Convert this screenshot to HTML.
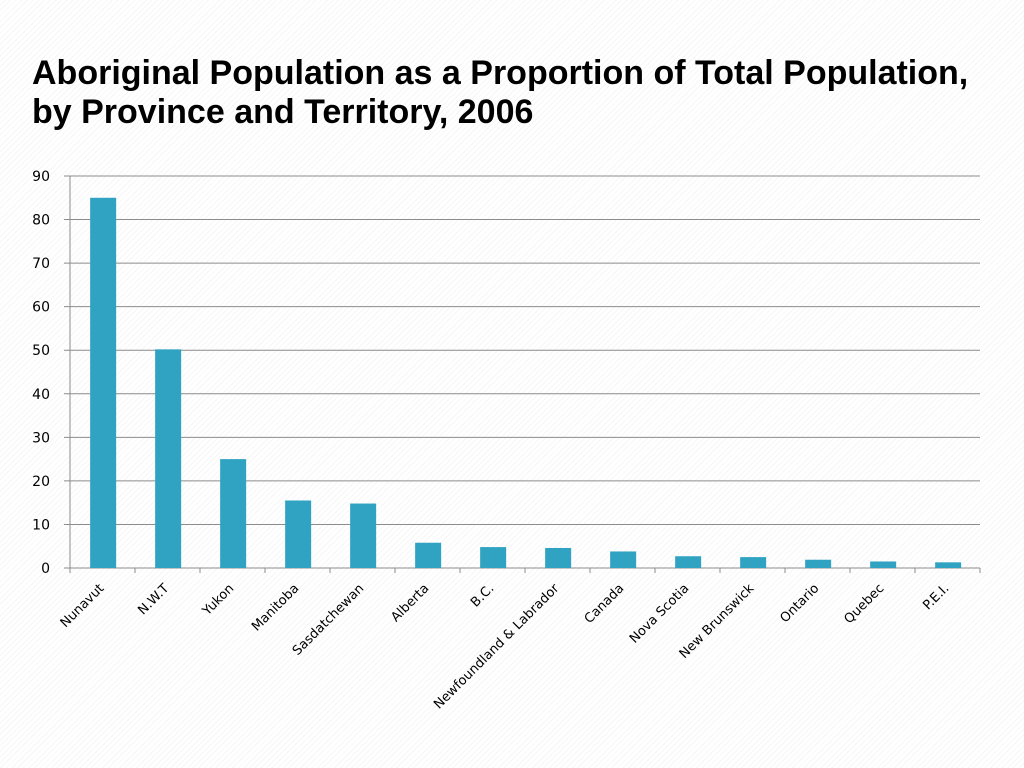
<!DOCTYPE html>
<html><head><meta charset="utf-8"><style>
body{margin:0;width:1024px;height:768px;overflow:hidden;background:repeating-linear-gradient(135deg,#fff 0 3px,#f6f6f6 3px 4px);font-family:"Liberation Sans",sans-serif}
h1{position:absolute;left:32px;top:54px;margin:0;font-size:34px;line-height:39px;font-weight:bold;color:#000;white-space:nowrap}
svg{position:absolute;left:0;top:0}
</style></head><body>
<h1>Aboriginal Population as a Proportion of Total Population,<br>by Province and Territory, 2006</h1>
<svg id="c" width="1024" height="768"></svg>
<script>
const categories=["Nunavut","N.W.T","Yukon","Manitoba","Sasdatchewan","Alberta","B.C.","Newfoundland & Labrador","Canada","Nova Scotia","New Brunswick","Ontario","Quebec","P.E.I."];
const values=[85,50.2,25,15.5,14.8,5.8,4.8,4.6,3.8,2.7,2.5,1.9,1.5,1.3];
const yTicks=[0,10,20,30,40,50,60,70,80,90];
const NS="http://www.w3.org/2000/svg",svg=document.getElementById('c');
const L=70,R=980,B=568,T=176,yMax=90;
const y=v=>B-(v/yMax)*(B-T);
const bw=(R-L)/categories.length;
const x=i=>L+i*bw;
function mk(t,a){const e=document.createElementNS(NS,t);for(const k in a)e.setAttribute(k,a[k]);svg.appendChild(e);return e;}
yTicks.forEach(v=>{
 const g=mk('line',{x1:64,x2:R,y1:y(v),y2:y(v),stroke:'#8c8c8c','stroke-width':1});
 
 
 const t=mk('text',{x:50,y:y(v)+5,'text-anchor':'end','font-size':14,fill:'#000','font-family':'DejaVu Sans, sans-serif'});
 t.textContent=v;
 
 
});
const ax=mk('line',{x1:L,x2:L,y1:T,y2:B,stroke:'#8c8c8c'});


for(let i=0;i<=categories.length;i++){
 const tk=mk('line',{x1:x(i),x2:x(i),y1:B,y2:B+5,stroke:'#8c8c8c'});
 
 
}
values.forEach((v,i)=>{
 const r=mk('rect',{x:x(i)+bw*0.31,y:y(v),width:bw*0.4,height:B-y(v),fill:'#2fa3c1'});
 
 
 const cx=x(i)+bw/2+2,cy=B+21;
 const t=mk('text',{x:cx,y:cy,'text-anchor':'end','font-size':13,fill:'#000','font-family':'DejaVu Sans, sans-serif',transform:`rotate(-45 ${cx} ${cy})`});
 t.textContent=categories[i];
 
 
});
</script>
</body></html>
